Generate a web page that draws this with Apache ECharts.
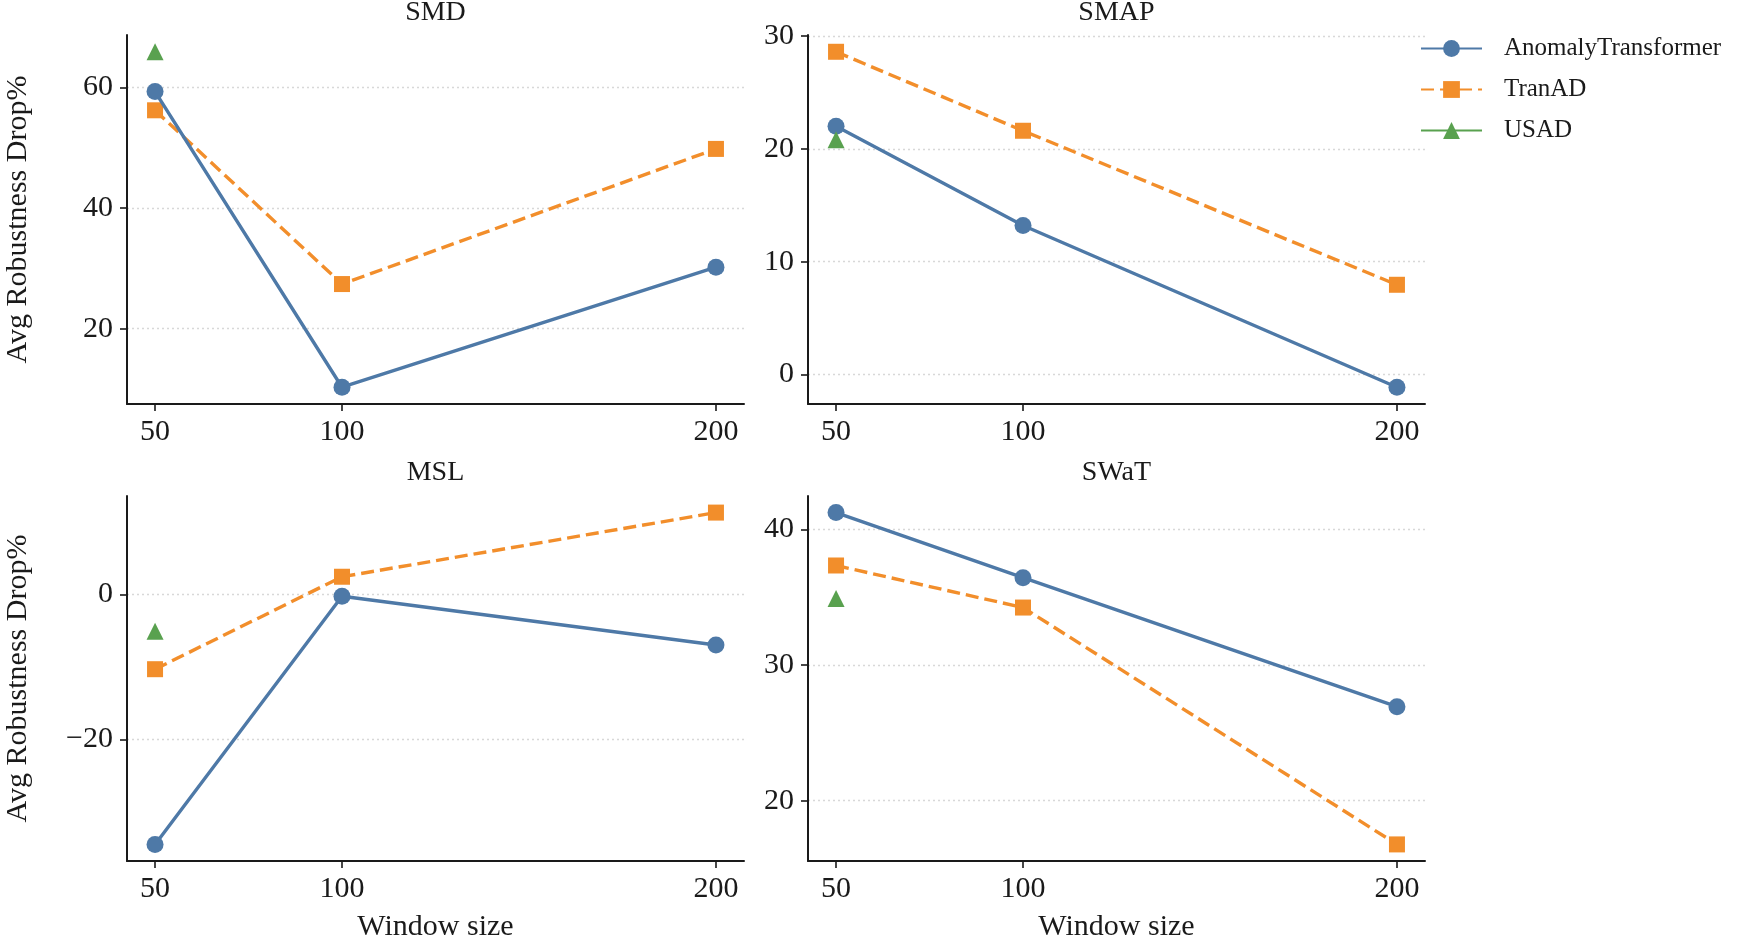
<!DOCTYPE html>
<html>
<head>
<meta charset="utf-8">
<script src="https://cdn.jsdelivr.net/npm/echarts@6/dist/echarts.min.js"></script>
<style>
html,body{margin:0;padding:0;background:#fff;}
#chart{width:1755px;height:943px;}
</style>
</head>
<body>
<div id="chart"></div>
<script>
// ---- data ----
const windows = [50, 100, 200];
const xTicks = [50, 100, 200];
const seriesNames = ['AnomalyTransformer', 'TranAD', 'USAD'];
const panelTitles = ['SMD', 'SMAP', 'MSL', 'SWaT'];

const smdAT = [59.3, 10.3, 30.2];
const smdTranAD = [56.2, 27.4, 49.8];
const smdUSAD = [65.9];

const smapAT = [22.0, 13.2, -1.13];
const smapTranAD = [28.6, 21.6, 7.95];
const smapUSAD = [20.8];

const mslAT = [-34.5, -0.23, -6.95];
const mslTranAD = [-10.3, 2.47, 11.33];
const mslUSAD = [-5.07];

const swatAT = [41.24, 36.44, 26.93];
const swatTranAD = [37.34, 34.24, 16.78];
const swatUSAD = [34.9];

const smdTicks = [20, 40, 60];
const smapTicks = [0, 10, 20, 30];
const mslTicks = [-20, 0];
const swatTicks = [20, 30, 40];

const yLabel = 'Avg Robustness Drop%';
const xLabel = 'Window size';

// ---- styling ----
const colors = ['#4E79A7', '#F28E2B', '#59A14F'];
const symbols = ['circle', 'rect', 'triangle'];
const symbolSizes = [17, 16, 17];
const FONT = "'Liberation Serif', 'DejaVu Serif', serif";
const TXT = '#1a1a1a';

const panels = [
  {title: panelTitles[0], at: smdAT, tr: smdTranAD, us: smdUSAD, ticks: smdTicks},
  {title: panelTitles[1], at: smapAT, tr: smapTranAD, us: smapUSAD, ticks: smapTicks},
  {title: panelTitles[2], at: mslAT, tr: mslTranAD, us: mslUSAD, ticks: mslTicks},
  {title: panelTitles[3], at: swatAT, tr: swatTranAD, us: swatUSAD, ticks: swatTicks}
];

const gridBoxes = [
  {left: 127, top: 35, width: 617, height: 369},
  {left: 808, top: 35, width: 617, height: 369},
  {left: 127, top: 496, width: 617, height: 368},
  {left: 808, top: 496, width: 617, height: 368}
];

const xMin = windows[0] - 0.05 * (windows[2] - windows[0]);
const xMax = windows[2] + 0.05 * (windows[2] - windows[0]);

const grids = [], xAxes = [], yAxes = [], series = [], titles = [];

panels.forEach((p, i) => {
  const g = gridBoxes[i];
  grids.push(Object.assign({containLabel: false}, g));
  const all = p.at.concat(p.tr, p.us);
  const lo = Math.min.apply(null, all), hi = Math.max.apply(null, all);
  const pad = 0.05 * (hi - lo);
  const isBottom = i >= 2, isLeft = i % 2 === 0;

  xAxes.push({
    type: 'value', gridIndex: i, min: xMin, max: xMax,
    axisLine: {show: true, onZero: false, lineStyle: {color: TXT, width: 2}},
    axisTick: {show: true, customValues: xTicks, length: 7, lineStyle: {color: TXT, width: 1.6}},
    axisLabel: {customValues: xTicks, fontSize: 30, fontFamily: FONT, color: TXT, margin: 13},
    splitLine: {show: false},
    name: isBottom ? xLabel : '',
    nameLocation: 'middle', nameGap: 51,
    nameTextStyle: {fontSize: 30, fontFamily: FONT, color: TXT}
  });
  yAxes.push({
    type: 'value', gridIndex: i, min: lo - pad, max: hi + pad,
    axisLine: {show: true, onZero: false, lineStyle: {color: TXT, width: 2}},
    axisTick: {show: true, customValues: p.ticks, length: 7, lineStyle: {color: TXT, width: 1.6}},
    axisLabel: {customValues: p.ticks, fontSize: 30, fontFamily: FONT, color: TXT, margin: 14,
      formatter: v => String(v).replace('-', '\u2212')},
    splitLine: {show: true, lineStyle: {color: '#d8d8d8', width: 1.3, type: [2, 3]}},
    name: isLeft ? yLabel : '',
    nameLocation: 'middle', nameGap: 94, nameRotate: 90,
    nameTextStyle: {fontSize: 30, fontFamily: FONT, color: TXT}
  });

  const vals = [p.at, p.tr, p.us];
  vals.forEach((arr, k) => {
    series.push({
      name: seriesNames[k], type: 'line', xAxisIndex: i, yAxisIndex: i,
      data: arr.map((v, j) => [windows[j], v]),
      symbol: symbols[k], symbolSize: symbolSizes[k],
      lineStyle: {color: colors[k], width: 3.4, type: k === 1 ? [13, 6] : 'solid'},
      itemStyle: {color: colors[k]},
      z: k === 2 ? 4 : (k === 0 ? 3 : 2),
      animation: false
    });
  });

  titles.push({
    text: p.title, left: g.left + g.width / 2, top: isBottom ? 459 : -1,
    textAlign: 'center', padding: 0,
    textStyle: {fontSize: 28, fontFamily: FONT, color: TXT, fontWeight: 'normal'}
  });
});

const chart = echarts.init(document.getElementById('chart'), null, {renderer: 'canvas'});
chart.setOption({
  backgroundColor: '#ffffff',
  animation: false,
  title: titles,
  grid: grids,
  xAxis: xAxes,
  yAxis: yAxes,
  series: series,
  legend: {
    data: seriesNames,
    orient: 'vertical', left: 1420, top: 36,
    itemWidth: 61, itemHeight: 21, itemGap: 16,
    padding: 0,
    textStyle: {fontSize: 25, fontFamily: FONT, color: TXT, padding: [0, 0, 0, 17]}
  }
});
</script>
</body>
</html>
